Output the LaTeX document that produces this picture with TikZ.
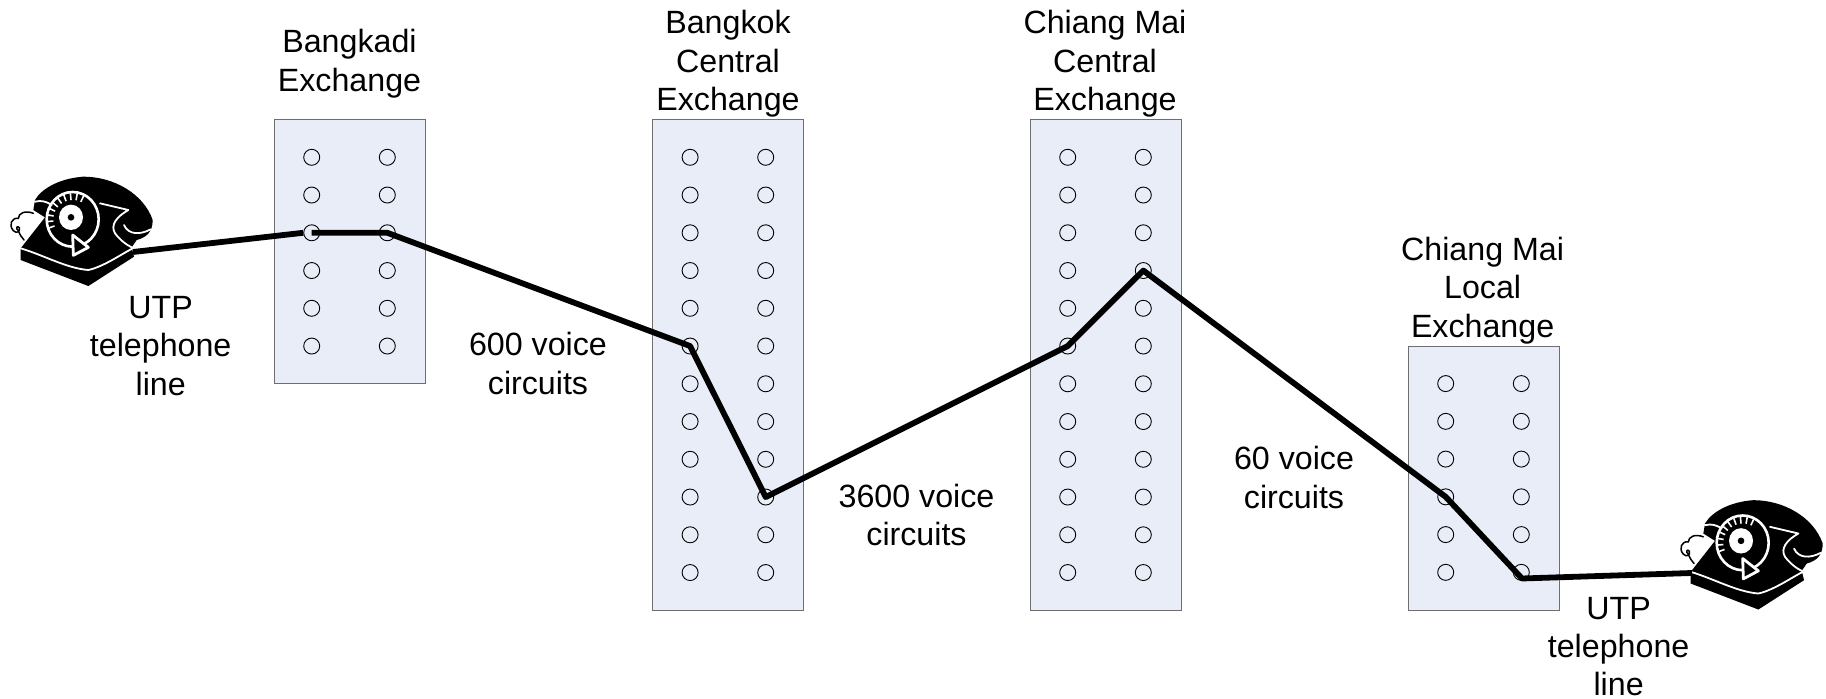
\documentclass[tikz,border=0pt]{standalone}
\usepackage{fontspec}
\setmainfont{Liberation Sans}
\definecolor{boxfill}{HTML}{E8EDF7}
\definecolor{boxline}{HTML}{6E6E6E}
\tikzset{
  exch/.style={draw=boxline,fill=boxfill,line width=0.5pt},
  hole/.style={draw=black,line width=0.45pt,circle,minimum size=8pt,inner sep=0pt,fill=none},
  lbl/.style={align=center,font=\fontsize{16.1}{19.2}\selectfont,inner sep=0pt},
  wire/.style={line width=2.9pt,line join=round},
  whiteline/.style={draw=white,line width=0.9pt,line cap=round,line join=round},
  phone/.pic={
    \begin{scope}[x=0.1667pt,y=-0.1667pt]
      \draw[line width=0.75pt,line cap=round] (100,160) .. controls (75,150) and (55,160) .. (55,175) .. controls (35,172) and (25,195) .. (40,212) .. controls (50,222) and (62,215) .. (58,203) .. controls (52,195) and (45,205) .. (55,212) .. controls (60,225) and (65,232) .. (72,240);
      \fill (105,120) .. controls (125,85) and (180,55) .. (250,50) .. controls (340,50) and (430,100) .. (458,180) .. controls (458,215) and (440,232) .. (410,240) -- (395,262) -- (402,290) -- (265,378) -- (62,300) -- (62,265) -- (135,172) -- (100,150) -- cycle;
      \draw[whiteline] (105,125) .. controls (125,120) and (140,125) .. (155,135);
      \draw[whiteline] (300,130) -- (385,150) .. controls (350,170) and (330,195) .. (345,220) .. controls (360,240) and (380,255) .. (395,262);
      \draw[whiteline] (372,195) .. controls (385,225) and (420,225) .. (452,208);
      \draw[whiteline] (62,265) .. controls (130,285) and (200,325) .. (265,330) .. controls (310,320) and (360,285) .. (398,265);
      \draw[white,line width=1.3pt] (218,178) ellipse [x radius=78,y radius=82];
      \fill[white] (213,172) ellipse [x radius=36,y radius=38];
      \fill (213,172) circle [radius=10];
      \foreach \a in {-200,-185,...,-65}
        \draw[white,line width=0.8pt] (218,178) ++(\a:58) -- ++(\a:20);
      \draw[white,fill=black,line width=1.4pt,line join=round] (218,225) -- (265,262) -- (220,286) -- cycle;
    \end{scope}
  }
}
\begin{document}
\begin{tikzpicture}[x=0.5pt,y=-0.5pt]
\useasboundingbox (0,0) rectangle (1826,699);
\node[exch,minimum width=75.5pt,minimum height=132pt,inner sep=0pt,anchor=north west] (ex1) at (273.5,119) {};
\node[exch,minimum width=75.5pt,minimum height=245.5pt,inner sep=0pt,anchor=north west] (ex2) at (652,119) {};
\node[exch,minimum width=75.5pt,minimum height=245.5pt,inner sep=0pt,anchor=north west] (ex3) at (1029.5,119) {};
\node[exch,minimum width=75.5pt,minimum height=132pt,inner sep=0pt,anchor=north west] (ex4) at (1408,346) {};
\foreach \n/\x/\y/\r in {1/274/157.3/6,2/652.4/157.3/12,3/1030/157.3/12,4/1408/383.6/6}{
  \foreach \i in {1,...,\r}{
    \node[hole] (h\n a\i) at ({\x+37.7},{\y+(\i-1)*37.75}) {};
    \node[hole] (h\n b\i) at ({\x+113.3},{\y+(\i-1)*37.75}) {};
  }
}
\pic at (0,160) {phone};
\pic at (1670,483.5) {phone};
\coordinate (pl) at (133,252);
\coordinate (pr) at (1692,573);
\coordinate (hw) at (1522,578.5);
\draw[wire] (pl) -- (h1a3.west);
\draw[wire] (h1a3.center) -- (h1b3.center) -- (h2a6.center) -- (h2b10.center) -- (h3a6.center) -- (h3b4.center) -- (h4a4.center) -- (hw) -- (pr);
\node[lbl] (t1) at (349.5,63.5) {Bangkadi\\Exchange};
\node[lbl] (t2) at (728,64) {Bangkok\\Central\\Exchange};
\node[lbl] (t3) at (1105,64) {Chiang Mai\\Central\\Exchange};
\node[lbl] (t4) at (1482.6,290.5) {Chiang Mai\\Local\\Exchange};
\node[lbl] (t5) at (160.7,346) {UTP\\telephone\\line};
\node[lbl] (t6) at (1618.6,646.5) {UTP\\telephone\\line};
\node[lbl] (t7) at (538,363.5) {600 voice\\circuits};
\node[lbl] (t8) at (916.5,515) {3600 voice\\circuits};
\node[lbl] (t9) at (1294,477.5) {60 voice\\circuits};
\end{tikzpicture}
\end{document}
